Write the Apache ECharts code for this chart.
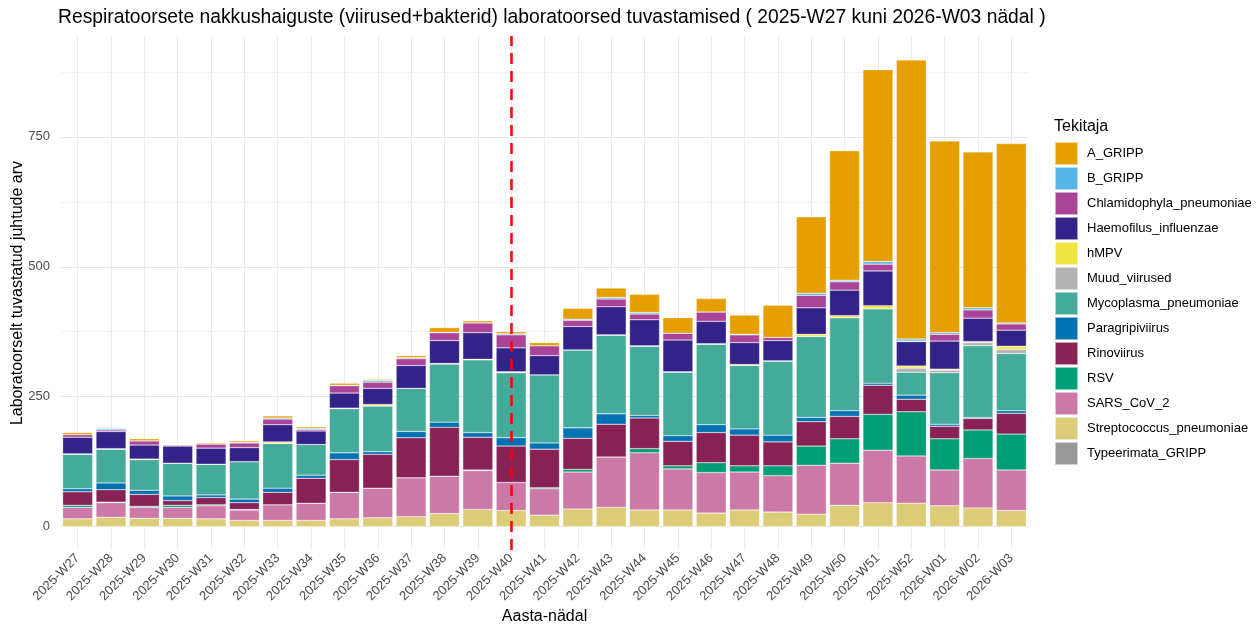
<!DOCTYPE html>
<html>
<head>
<meta charset="utf-8">
<title>Respiratoorsed nakkushaigused</title>
<script src="https://cdn.jsdelivr.net/npm/echarts@6/dist/echarts.min.js"></script>
<style>
  html, body { margin: 0; padding: 0; background: #fff; }
  #chart { width: 1260px; height: 625px; }
</style>
</head>
<body>
<div id="chart"></div>
<script>
const weeks = [
  '2025-W27', '2025-W28', '2025-W29', '2025-W30', '2025-W31', '2025-W32', '2025-W33',
  '2025-W34', '2025-W35', '2025-W36', '2025-W37', '2025-W38', '2025-W39', '2025-W40',
  '2025-W41', '2025-W42', '2025-W43', '2025-W44', '2025-W45', '2025-W46', '2025-W47',
  '2025-W48', '2025-W49', '2025-W50', '2025-W51', '2025-W52', '2026-W01', '2026-W02', '2026-W03'
]

// loetud pildilt, ligikaudsed
const aGripp = [4, 1, 4, 0, 2, 3, 4, 3, 4, 2, 4, 9, 4, 4, 6, 21, 18, 35, 30, 26, 37, 62, 147, 249, 369, 537, 369, 300, 345]
const bGripp = [0, 3, 0, 1, 0, 1, 2, 2, 1, 3, 2, 1, 0, 2, 0, 2, 3, 3, 0, 0, 1, 0, 4, 3, 5, 4, 3, 4, 2]
const chlamidophyla = [5, 3, 8, 2, 8, 9, 11, 3, 14, 12, 13, 15, 19, 25, 19, 12, 15, 11, 13, 18, 15, 6, 24, 16, 13, 1, 13, 16, 12]
const haemofilus = [32, 33, 27, 33, 31, 27, 33, 26, 29, 31, 44, 44, 51, 46, 37, 45, 54, 50, 61, 43, 42, 39, 51, 49, 67, 47, 54, 45, 31]
const hmpv = [1, 1, 1, 0, 0, 0, 3, 0, 1, 3, 0, 1, 1, 1, 0, 0, 0, 0, 0, 1, 2, 0, 4, 4, 6, 4, 2, 2, 6]
const muudViirused = [0, 0, 0, 0, 0, 0, 0, 0, 0, 0, 0, 0, 0, 1, 0, 0, 1, 1, 1, 0, 0, 1, 0, 0, 0, 8, 5, 6, 8]
const mycoplasma = [66, 65, 59, 63, 59, 72, 86, 59, 85, 88, 83, 112, 140, 125, 131, 150, 151, 133, 122, 155, 122, 142, 156, 179, 143, 44, 99, 138, 110]
const paragripi = [6, 13, 8, 9, 5, 7, 8, 6, 13, 5, 12, 10, 9, 16, 12, 20, 20, 5, 11, 15, 12, 13, 8, 11, 4, 8, 4, 2, 5]
const rinoviirus = [26, 24, 23, 9, 14, 13, 24, 48, 63, 65, 77, 94, 63, 70, 74, 60, 63, 59, 47, 58, 59, 46, 47, 43, 56, 24, 24, 22, 40]
const rsv = [4, 1, 2, 4, 2, 1, 0, 0, 0, 0, 0, 0, 1, 0, 2, 5, 0, 8, 6, 19, 12, 19, 37, 47, 69, 85, 60, 55, 69]
const sarsCov2 = [22, 28, 21, 21, 25, 20, 30, 33, 51, 57, 75, 72, 75, 54, 51, 71, 97, 110, 79, 78, 73, 70, 94, 81, 101, 91, 69, 95, 78]
const streptococcus = [15, 18, 16, 16, 15, 12, 12, 12, 15, 17, 19, 25, 33, 31, 22, 34, 37, 32, 32, 26, 32, 28, 24, 41, 46, 45, 40, 36, 31]
const typeerimata = [0, 0, 0, 0, 0, 0, 0, 0, 0, 0, 0, 0, 0, 0, 0, 0, 0, 0, 0, 0, 0, 0, 0, 0, 0, 0, 0, 0, 0]

const yTicks = [0, 125, 250, 375, 500, 625, 750, 875]
const yLabels = [0, 250, 500, 750]
const markWeek = '2025-W40'

// virnastamise järjekord alt üles
let pathogens = [
  { name: 'Typeerimata_GRIPP', data: typeerimata, color: '#999999' },
  { name: 'Streptococcus_pneumoniae', data: streptococcus, color: '#DDCC77' },
  { name: 'SARS_CoV_2', data: sarsCov2, color: '#CC79A7' },
  { name: 'RSV', data: rsv, color: '#009E73' },
  { name: 'Rinoviirus', data: rinoviirus, color: '#882255' },
  { name: 'Paragripiviirus', data: paragripi, color: '#0072B2' },
  { name: 'Mycoplasma_pneumoniae', data: mycoplasma, color: '#44AA99' },
  { name: 'Muud_viirused', data: muudViirused, color: '#B3B3B3' },
  { name: 'hMPV', data: hmpv, color: '#F0E442' },
  { name: 'Haemofilus_influenzae', data: haemofilus, color: '#332288' },
  { name: 'Chlamidophyla_pneumoniae', data: chlamidophyla, color: '#AA4499' },
  { name: 'B_GRIPP', data: bGripp, color: '#56B4E9' },
  { name: 'A_GRIPP', data: aGripp, color: '#E69F00' }
]

let font = '"Liberation Sans", Arial, sans-serif'

let series = pathogens.map((p) => ({
  name: p.name,
  type: 'bar',
  stack: 'kokku',
  barWidth: '90%',
  data: p.data,
  itemStyle: {
    color: p.color,
    borderColor: 'rgba(255,255,255,0.55)',
    borderWidth: 0.5
  },
  emphasis: { disabled: true }
}))

series[0].markLine = {
  silent: true,
  symbol: 'none',
  label: { show: false },
  lineStyle: { color: '#FF0000', type: [11, 7], width: 2.5 },
  data: [{ xAxis: markWeek }]
}

let mychart = echarts.init(document.getElementById('chart'))
let option = {
  animation: false,
  textStyle: { fontFamily: font },
  title: [
    {
      text: 'Respiratoorsete nakkushaiguste (viirused+bakterid) laboratoorsed tuvastamised ( 2025-W27 kuni 2026-W03 nädal )',
      left: 53,
      top: 3,
      textStyle: { fontSize: 19.3, fontWeight: 'normal', color: '#000', fontFamily: font }
    },
    {
      text: 'Tekitaja',
      left: 1049,
      top: 114,
      textStyle: { fontSize: 16, fontWeight: 'normal', color: '#000', fontFamily: font }
    }
  ],
  legend: {
    orient: 'vertical',
    left: 1049,
    top: 136,
    itemWidth: 23,
    itemHeight: 23,
    itemGap: 0,
    icon: 'rect',
    selectedMode: false,
    data: pathogens.map((p) => p.name).reverse(),
    textStyle: { fontSize: 13, lineHeight: 16, color: '#000', fontFamily: font, padding: [0, 0, 0, 4] }
  },
  grid: { left: 61, right: 232, top: 36, bottom: 75, outerBoundsMode: 'none', containLabel: false },
  xAxis: {
    type: 'category',
    data: weeks,
    name: 'Aasta-nädal',
    nameLocation: 'middle',
    nameGap: 59,
    nameMoveOverlap: false,
    nameTextStyle: { fontSize: 16, color: '#000', fontFamily: font },
    axisLine: { show: false },
    axisTick: { show: false, alignWithLabel: true },
    axisLabel: { rotate: 45, fontSize: 13, color: '#4D4D4D', margin: 6, interval: 0, fontFamily: font },
    splitLine: { show: true, alignWithLabel: true, lineStyle: { color: '#EBEBEB', width: 1 } }
  },
  yAxis: {
    type: 'value',
    min: -45,
    max: 944,
    name: 'Laboratoorselt tuvastatud juhtude arv',
    nameLocation: 'middle',
    nameGap: 35,
    nameMoveOverlap: false,
    nameTextStyle: { fontSize: 16, color: '#000', fontFamily: font },
    axisLine: { show: false },
    axisTick: { show: false, customValues: yTicks },
    axisLabel: { customValues: yLabels, fontSize: 13, color: '#4D4D4D', margin: 11, fontFamily: font },
    splitLine: { show: true, lineStyle: { color: ['#E6E6E6', '#F2F2F2'], width: 1 } }
  },
  series: series
}
mychart.setOption(option)
</script>
</body>
</html>
